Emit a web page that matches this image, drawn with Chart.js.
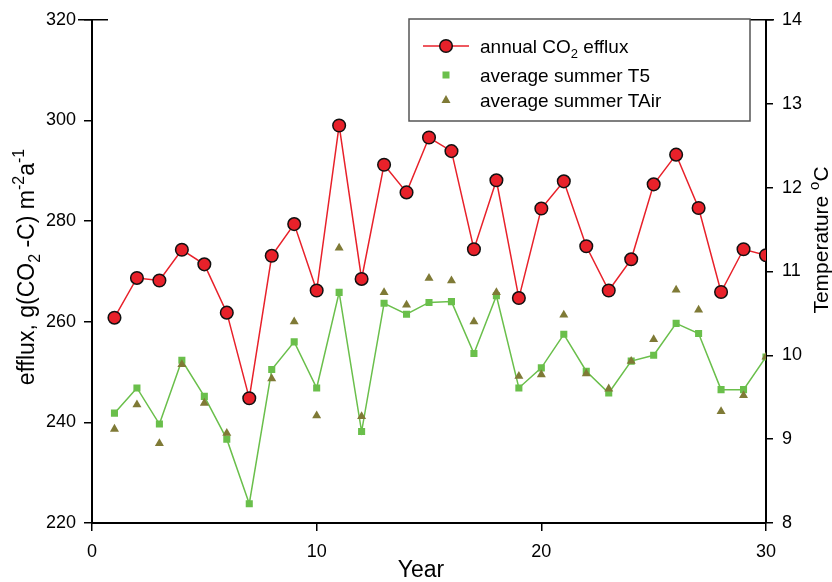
<!DOCTYPE html>
<html>
<head>
<meta charset="utf-8">
<script src="https://cdn.jsdelivr.net/npm/chart.js@4/dist/chart.umd.min.js"></script>
<style>
  html, body { margin: 0; padding: 0; background: #fff; }
  #wrap { width: 832px; height: 582px; position: relative; }
</style>
</head>
<body>
<div id="wrap"><canvas id="c" width="832" height="582"></canvas></div>
<script>
// Yearly values: annual CO2 efflux and average summer temperatures
const years = [1, 2, 3, 4, 5, 6, 7, 8, 9, 10, 11, 12, 13, 14, 15, 16, 17, 18, 19, 20, 21, 22, 23, 24, 25, 26, 27, 28, 29, 30];
const co2Efflux = [260.8, 268.7, 268.2, 274.3, 271.4, 261.8, 244.8, 273.1, 279.4, 266.2,
                   299.0, 268.5, 291.2, 285.7, 296.6, 293.9, 274.4, 288.1, 264.7, 282.5,
                   287.9, 275.0, 266.2, 272.4, 287.3, 293.2, 282.6, 265.9, 274.4, 273.2];
const summerT5 = [9.31, 9.61, 9.18, 9.94, 9.51, 9.00, 8.23, 9.83, 10.16, 9.61,
                  10.75, 9.09, 10.62, 10.49, 10.63, 10.64, 10.02, 10.71, 9.61, 9.85,
                  10.25, 9.81, 9.55, 9.93, 10.00, 10.38, 10.26, 9.59, 9.59, 9.98];
const summerTAir = [9.12, 9.41, 8.95, 9.89, 9.43, 9.07, null, 9.72, 10.40, 9.28,
                    11.28, 9.27, 10.75, 10.60, 10.92, 10.89, 10.40, 10.75, 9.75, 9.77,
                    10.48, 9.78, 9.60, 9.93, 10.19, 10.78, 10.54, 9.33, 9.52, 9.98];
const xTicks = [0, 10, 20, 30];
const effluxTicks = [220, 240, 260, 280, 300, 320];
const tempTicks = [8, 9, 10, 11, 12, 13, 14];

const FONT = '"Liberation Sans", Arial, sans-serif';
const RED = '#e8212a';
const GREEN = '#6abf4b';
const OLIVE = '#7f7a36';

const pts = arr => years.map((y, i) => ({ x: y, y: arr[i] }));

// Draws a run of text pieces, some raised or lowered, starting at (x, y) on the baseline
function richText(ctx, parts, x, y, size) {
  let cx = x;
  for (const p of parts) {
    const s = p.sub || p.sup ? Math.round(size * 0.7) : size;
    ctx.font = s + 'px ' + FONT;
    const dy = p.sub ? size * 0.28 : p.sup ? -size * 0.42 : 0;
    ctx.fillText(p.t, cx, y + dy);
    cx += ctx.measureText(p.t).width;
  }
  return cx - x;
}
function richWidth(ctx, parts, size) {
  let w = 0;
  for (const p of parts) {
    const s = p.sub || p.sup ? Math.round(size * 0.7) : size;
    ctx.font = s + 'px ' + FONT;
    w += ctx.measureText(p.t).width;
  }
  return w;
}

const yTitle = [{ t: 'efflux, g(CO' }, { t: '2', sub: true }, { t: ' -C) m' }, { t: '-2', sup: true }, { t: 'a' }, { t: '-1', sup: true }];
const y1Title = [{ t: 'Temperature ' }, { t: 'o', sup: true }, { t: 'C' }];
const legendItems = [
  { parts: [{ t: 'annual CO' }, { t: '2', sub: true }, { t: ' efflux' }], style: 'circle' },
  { parts: [{ t: 'average summer T5' }], style: 'rect' },
  { parts: [{ t: 'average summer TAir' }], style: 'triangle' }
];

const decorations = {
  id: 'decorations',
  afterDraw(chart) {
    const ctx = chart.ctx;
    const a = chart.chartArea;
    ctx.save();
    // caps across the top ends of both vertical axes
    ctx.strokeStyle = '#000';
    ctx.lineWidth = 1.5;
    ctx.beginPath();
    ctx.moveTo(a.left - 14, a.top); ctx.lineTo(a.left + 16, a.top);
    ctx.moveTo(a.right - 16, a.top); ctx.lineTo(a.right + 8, a.top);
    ctx.stroke();

    ctx.fillStyle = '#000';
    ctx.textBaseline = 'alphabetic';
    ctx.textAlign = 'left';

    // left axis title
    const ys = 23;
    let w = richWidth(ctx, yTitle, ys);
    ctx.save();
    ctx.translate(34, 267);
    ctx.rotate(-Math.PI / 2);
    richText(ctx, yTitle, -w / 2, 0, ys);
    ctx.restore();

    // right axis title
    w = richWidth(ctx, y1Title, 21);
    ctx.save();
    ctx.translate(828, 240);
    ctx.rotate(-Math.PI / 2);
    richText(ctx, y1Title, -w / 2, 0, 21);
    ctx.restore();

    // bottom axis title
    ctx.font = '23px ' + FONT;
    ctx.textAlign = 'center';
    ctx.fillText('Year', 421, 577);
    ctx.textAlign = 'left';

    // legend
    const bx = 409, by = 19, bw = 341, bh = 102;
    ctx.fillStyle = '#fff';
    ctx.fillRect(bx, by, bw, bh);
    ctx.strokeStyle = '#555';
    ctx.lineWidth = 1.5;
    ctx.strokeRect(bx, by, bw, bh);
    const rowY = [46, 75, 100];
    legendItems.forEach((it, i) => {
      const cy = rowY[i];
      if (it.style === 'circle') {
        ctx.strokeStyle = RED; ctx.lineWidth = 1.5;
        ctx.beginPath(); ctx.moveTo(423, cy); ctx.lineTo(469, cy); ctx.stroke();
        ctx.fillStyle = RED; ctx.strokeStyle = '#111'; ctx.lineWidth = 1.5;
        ctx.beginPath(); ctx.arc(446, cy, 6.3, 0, Math.PI * 2); ctx.fill(); ctx.stroke();
      } else if (it.style === 'rect') {
        ctx.fillStyle = GREEN;
        ctx.fillRect(442.5, cy - 3.5, 7, 7);
      } else {
        ctx.fillStyle = OLIVE;
        ctx.beginPath(); ctx.moveTo(446, cy - 5); ctx.lineTo(450.5, cy + 3); ctx.lineTo(441.5, cy + 3); ctx.closePath(); ctx.fill();
      }
      ctx.fillStyle = '#000';
      richText(ctx, it.parts, 480, cy + 7, 19);
    });
    ctx.restore();
  }
};

const axisGrid = { display: true, drawOnChartArea: false, drawTicks: true, tickLength: 8, color: '#000', lineWidth: 1.5 };
const axisBorder = { display: true, color: '#000', width: 2 };
const tickFont = { family: FONT, size: 18 };

new Chart(document.getElementById('c'), {
  type: 'line',
  data: {
    datasets: [
      {
        label: 'annual CO2 efflux',
        data: pts(co2Efflux),
        yAxisID: 'y',
        borderColor: RED,
        borderWidth: 1.5,
        pointBackgroundColor: RED,
        pointBorderColor: '#111',
        pointBorderWidth: 1.5,
        pointRadius: 6.3,
        pointStyle: 'circle',
        tension: 0,
        order: 0
      },
      {
        label: 'average summer TAir',
        data: pts(summerTAir),
        yAxisID: 'y1',
        showLine: false,
        pointStyle: 'triangle',
        pointRadius: 5.2,
        pointBackgroundColor: OLIVE,
        pointBorderColor: OLIVE,
        pointBorderWidth: 0,
        order: 1
      },
      {
        label: 'average summer T5',
        data: pts(summerT5),
        yAxisID: 'y1',
        borderColor: GREEN,
        borderWidth: 1.5,
        pointStyle: 'rect',
        pointRadius: 5,
        pointBackgroundColor: GREEN,
        pointBorderColor: GREEN,
        pointBorderWidth: 0,
        tension: 0,
        order: 2
      }
    ]
  },
  options: {
    responsive: false,
    animation: false,
    layout: { padding: { top: 18, left: 0, right: 0, bottom: 0 } },
    plugins: { legend: { display: false }, tooltip: { enabled: false } },
    scales: {
      x: {
        type: 'linear', position: 'bottom',
        min: xTicks[0], max: xTicks[xTicks.length - 1],
        afterBuildTicks: s => { s.ticks = xTicks.map(v => ({ value: v })); },
        ticks: { color: '#000', font: tickFont, padding: 10, maxRotation: 0 },
        grid: axisGrid, border: axisBorder,
        afterFit: s => { s.height = 59; }
      },
      y: {
        type: 'linear', position: 'left',
        min: effluxTicks[0], max: effluxTicks[effluxTicks.length - 1],
        afterBuildTicks: s => { s.ticks = effluxTicks.map(v => ({ value: v })); },
        ticks: { color: '#000', font: tickFont, padding: 8 },
        grid: axisGrid, border: axisBorder,
        afterFit: s => { s.width = 92; }
      },
      y1: {
        type: 'linear', position: 'right',
        min: tempTicks[0], max: tempTicks[tempTicks.length - 1],
        afterBuildTicks: s => { s.ticks = tempTicks.map(v => ({ value: v })); },
        ticks: { color: '#000', font: tickFont, padding: 9 },
        grid: Object.assign({}, axisGrid, { tickLength: 7 }), border: axisBorder,
        afterFit: s => { s.width = 66; }
      }
    }
  },
  plugins: [decorations]
});
</script>
</body>
</html>
